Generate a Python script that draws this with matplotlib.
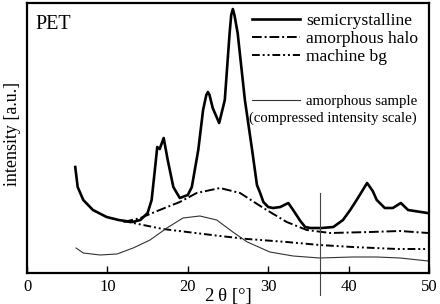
import matplotlib
matplotlib.use("Agg")
import matplotlib.pyplot as plt

plt.rcParams['font.family'] = ['Liberation Serif', 'DejaVu Serif']

# semicrystalline PET pattern
semi_x = [6.0, 6.3, 7.0, 8.2, 9.9, 11.4, 13.1, 14.1, 15.0, 15.5, 15.9, 16.2,
          16.5, 17.0, 17.5, 18.2, 19.0, 20.0, 20.5, 21.3, 21.9, 22.3, 22.5,
          22.7, 23.1, 23.9, 24.6, 25.2, 25.4, 25.6, 25.8, 26.2, 27.1, 28.0,
          28.6, 29.0, 29.4, 30.0, 30.6, 31.5, 32.5, 33.1, 34.0, 34.6, 35.2,
          36.7, 38.1, 39.3, 40.2, 41.0, 42.3, 43.0, 43.5, 44.5, 45.5, 46.5,
          47.4, 49.8]
semi_y = [106, 86, 73, 63, 56, 53, 51, 53, 60, 73, 103, 126,
          124, 135, 113, 86, 75, 78, 86, 123, 163, 178, 181,
          178, 165, 150, 173, 240, 258, 264, 258, 240, 173, 123,
          88, 80, 71, 66, 65, 66, 70, 63, 52, 46, 45,
          45, 46, 53, 63, 73, 90, 82, 73, 65, 65, 70,
          63, 60]

# amorphous halo
halo_x = [12.0, 14.1, 16.5, 19.0, 21.1, 24.0, 26.5, 29.4, 32.3, 34.8, 37.7,
          42.7, 46.4, 49.9]
halo_y = [51, 55, 63, 71, 80, 85, 80, 65, 51, 43, 40, 41, 42, 40]

# machine background
bg_x = [12.0, 16.9, 24.0, 27.4, 32.3, 36.4, 40.5, 46.0, 49.9]
bg_y = [52, 44, 37, 34, 31, 28, 26, 24, 24]

# amorphous sample (compressed scale)
amo_x = [6.1, 7.0, 9.1, 11.2, 13.2, 15.3, 17.4, 19.4, 21.5, 23.6, 25.6,
         27.4, 30.2, 33.1, 36.4, 40.5, 43.5, 46.4, 49.9]
amo_y = [25, 20, 18, 19, 25, 33, 45, 55, 57, 53, 41,
         31, 21, 17, 15, 16, 16, 15, 12]

marker_x = 36.5
marker_y = [80, -22]

fig = plt.figure(figsize=(4.4, 3.04), dpi=100)
ax = fig.add_axes([0.0614, 0.102, 0.9136, 0.888])

l1, = ax.plot(semi_x, semi_y, color='black', lw=1.9, label='semicrystalline')
l2, = ax.plot(halo_x, halo_y, color='black', lw=1.4,
              dashes=[5, 1.5, 1, 1.5], label='amorphous halo')
l3, = ax.plot(bg_x, bg_y, color='black', lw=1.4,
              dashes=[4, 1.5, 1, 1.5, 1, 1.5], label='machine bg')
l4, = ax.plot(amo_x, amo_y, color='#333333', lw=0.8, label='amorphous sample')
ax.plot([marker_x, marker_x], marker_y, color='#444444', lw=0.8, clip_on=False)

ax.set_xlim(0, 50)
ax.set_ylim(0, 270)
ax.set_xticks([0, 10, 20, 30, 40, 50])
ax.set_yticks([])
ax.tick_params(axis='x', direction='in', length=5, width=1, labelsize=12, pad=4)
for s in ax.spines.values():
    s.set_linewidth(1.6)

ax.set_xlabel('2\u2009θ [°]', fontsize=13.5, labelpad=-5)
ax.set_ylabel('intensity [a.u.]', fontsize=13, labelpad=3)
ax.yaxis.set_label_coords(-0.014, 0.515)

ax.text(0.022, 0.955, 'PET', transform=ax.transAxes, fontsize=14.5,
        va='top', ha='left')

leg1 = ax.legend(handles=[l1, l2, l3], loc='upper left',
                 bbox_to_anchor=(0.56, 0.965), frameon=False, fontsize=12.6,
                 handlelength=2.75, handletextpad=0.35, labelspacing=0.1,
                 borderpad=0, borderaxespad=0)
ax.add_artist(leg1)
ax.legend(handles=[l4], loc='upper left', bbox_to_anchor=(0.56, 0.66),
          frameon=False, fontsize=10.6, handlelength=3.27,
          handletextpad=0.4, borderpad=0, borderaxespad=0)
ax.text(0.97, 0.575, '(compressed intensity scale)', transform=ax.transAxes,
        fontsize=10.6, ha='right', va='center')

fig.savefig('out.png', dpi=100)
